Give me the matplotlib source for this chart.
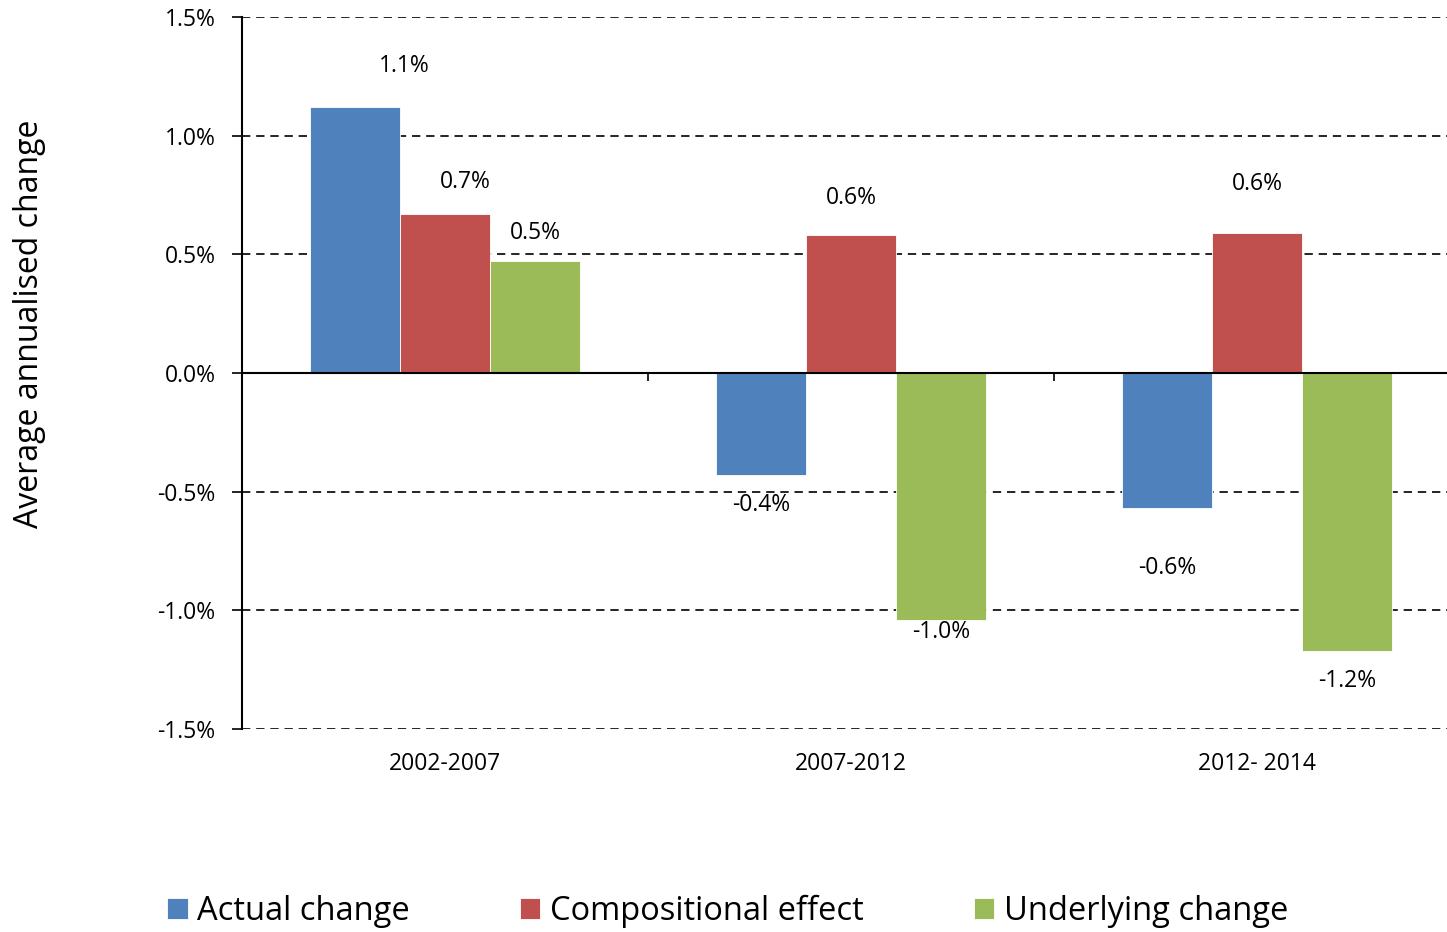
import matplotlib
matplotlib.use("Agg")
import matplotlib.pyplot as plt
import matplotlib.transforms as mtransforms
from matplotlib.ticker import FuncFormatter, FixedLocator
import numpy as np

plt.rcParams['font.family'] = ['Open Sans', 'DejaVu Sans']

categories = ["2002-2007", "2007-2012", "2012- 2014"]
series_names = ["Actual change", "Compositional effect", "Underlying change"]
actual = [1.12, -0.43, -0.57]
compositional = [0.67, 0.58, 0.59]
underlying = [0.47, -1.04, -1.17]
label_texts = [["1.1%", "-0.4%", "-0.6%"],
               ["0.7%", "0.6%", "0.6%"],
               ["0.5%", "-1.0%", "-1.2%"]]
y_ticks = [-1.5, -1.0, -0.5, 0.0, 0.5, 1.0, 1.5]

colors = ["#4F81BD", "#C0504D", "#9BBB59"]
# label offsets in pixels (dx, dy) relative to bar end (layout only)
label_offsets = [[(49, 41), (0, -30), (0, -60)],
                 [(20, 32), (0, 37), (0, 49)],
                 [(0, 28), (0, -12), (0, -30)]]

W, H = 1447, 932
fig = plt.figure(figsize=(W / 100, H / 100), dpi=100)
ax = fig.add_axes([242 / W, (H - 729) / H, (W - 242) / W, (729 - 17) / H])

FS = 16.5

values = [actual, compositional, underlying]
x = np.arange(len(categories))
bw = 0.2217
for i, (vals, c, name) in enumerate(zip(values, colors, series_names)):
    xs = x + (i - 1) * bw
    ax.bar(xs, vals, width=bw, color=c, edgecolor="white", linewidth=0.6,
           label=name, zorder=3)
    for j, v in enumerate(vals):
        dx, dy = label_offsets[i][j]
        ax.annotate(label_texts[i][j], (xs[j], v), xytext=(dx * 0.72, dy * 0.72),
                    textcoords="offset points", ha="center", va="center",
                    fontsize=FS, color="black", zorder=5)

ax.set_ylim(-1.5, 1.5)
ax.set_xlim(-0.5, 2.468)
ax.set_yticks(y_ticks)
ax.yaxis.set_major_formatter(FuncFormatter(lambda v, p: f"{v:.1f}%"))
ax.tick_params(axis="y", direction="out", length=7, width=1.2, labelsize=FS,
               pad=12, colors="black")

for t in y_ticks:
    if t != 0:
        ax.axhline(t, color="black", lw=1.2, ls=(0, (5, 3.5)), zorder=1)
ax.axhline(0, color="black", lw=1.5, zorder=4)

for s in ["top", "right"]:
    ax.spines[s].set_visible(False)
ax.spines["left"].set_linewidth(1.5)
ax.spines["bottom"].set_position(("data", 0))
ax.spines["bottom"].set_visible(False)

# category boundary ticks
ax.xaxis.set_major_locator(FixedLocator(list(x[:-1] + 0.5)))
ax.tick_params(axis="x", direction="out", length=6, width=1.2, labelbottom=False)
trans = mtransforms.blended_transform_factory(ax.transData, ax.transAxes)
for xi, cat in zip(x, categories):
    ax.text(xi, -0.049, cat, transform=trans, ha="center", va="center",
            fontsize=FS, color="black")

fig.text(30 / W, 1 - 324 / H, "Average annualised change", rotation=90,
         ha="center", va="center", fontsize=23)

fig.legend(loc="center", bbox_to_anchor=(0.503, 21 / H), ncol=3, frameon=False,
           fontsize=23.5, handlelength=0.62, handleheight=0.62,
           handletextpad=0.3, columnspacing=3.37)

fig.savefig("out.png", dpi=100)
